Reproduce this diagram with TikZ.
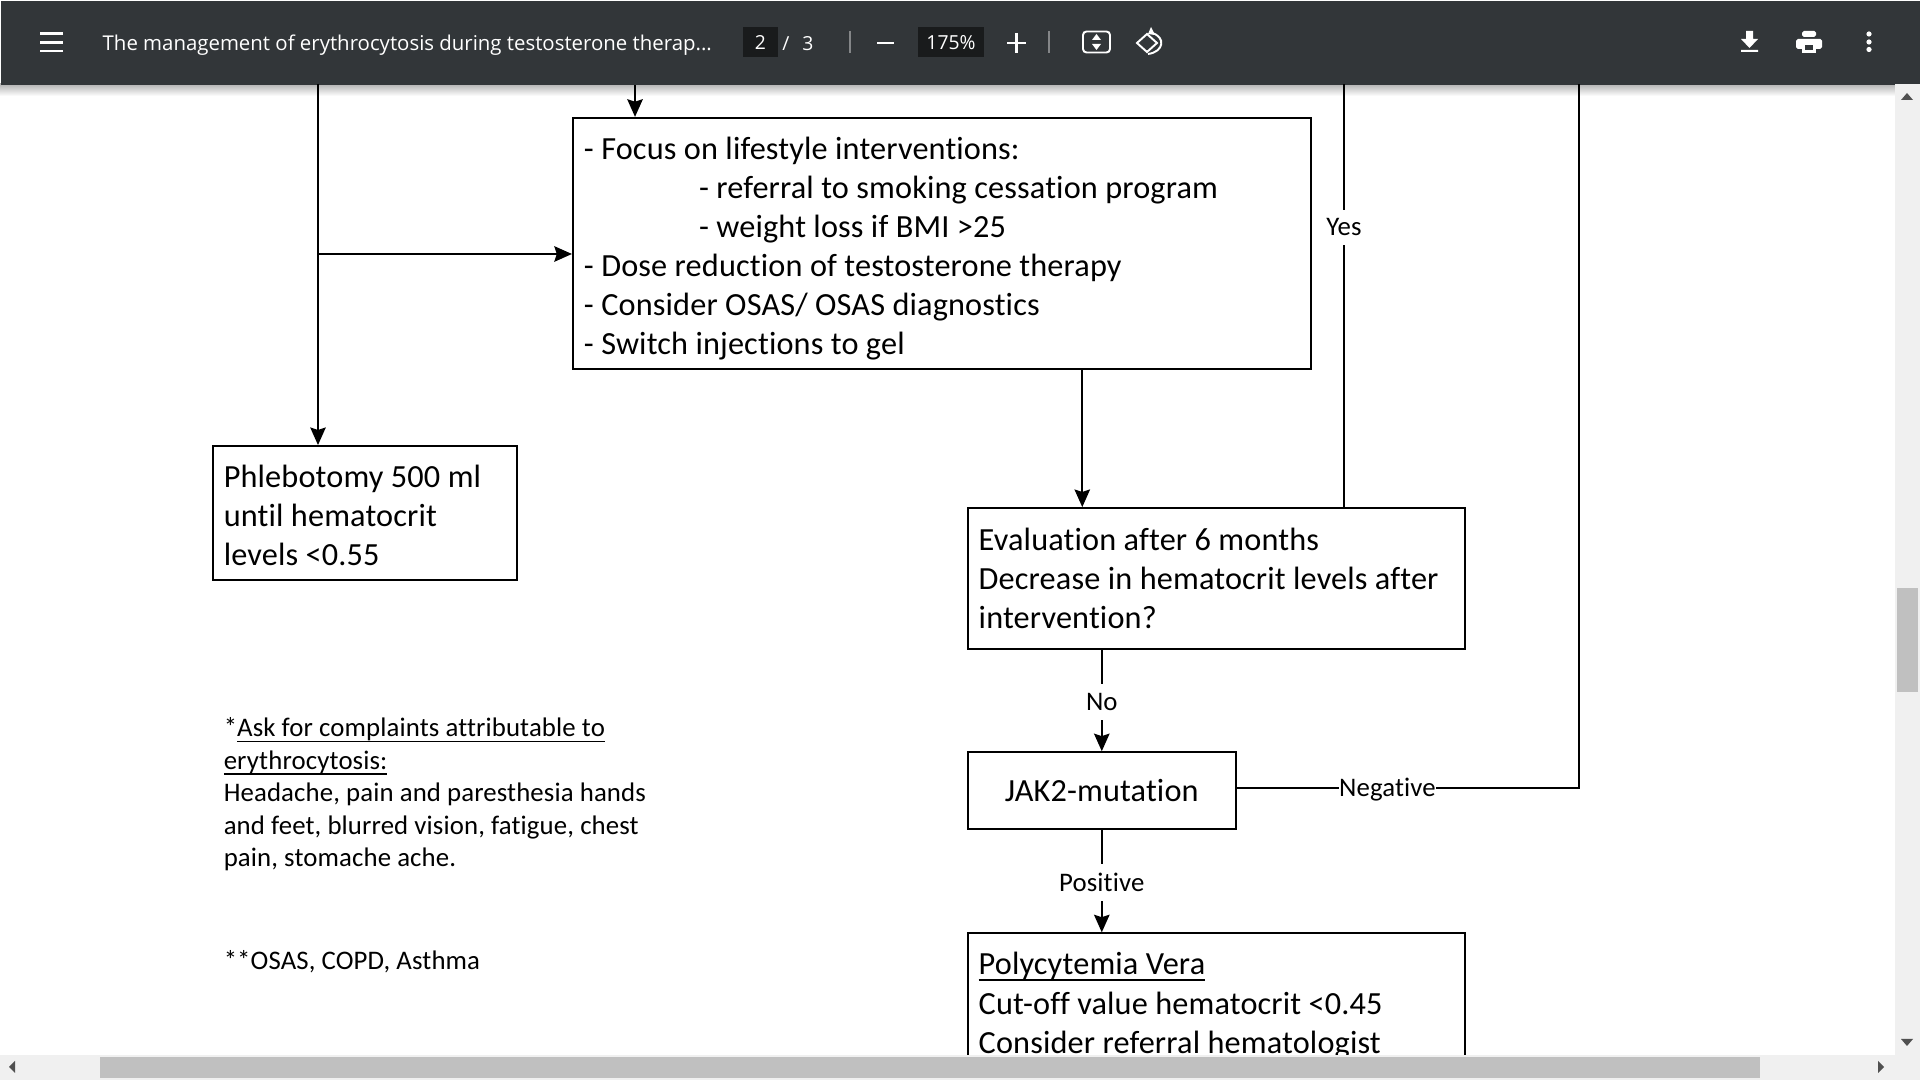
\documentclass[tikz,border=0pt]{standalone}
\usepackage{fontspec}
\setmainfont{Carlito}[LetterSpace=0.45, Ligatures=CommonOff]
\newfontfamily\barfont{Open Sans}
\usetikzlibrary{shapes.geometric, arrows.meta, calc}
\definecolor{barGrey}{RGB}{50, 54, 57}
\definecolor{barField}{RGB}{25, 27, 28}
\definecolor{trackGrey}{RGB}{240, 240, 240}
\definecolor{thumbGrey}{RGB}{192, 192, 192}
\definecolor{tipGrey}{RGB}{80, 80, 80}
\newcommand{\undertext}[1]{\underline{\smash{#1}}}

\begin{document}
\begin{tikzpicture}
    [
        x=0.01cm, y=-0.01cm,
        place/.style={
            draw, rectangle, line width=0.6pt, inner sep=0pt, inner xsep=3.1pt,
            align=flush left, font=\fontsize{9.18}{11.1}\selectfont
        },
        note/.style={
            text width=4.4cm, inner sep=0pt, align=flush left,
            font=\fontsize{7.62}{9.25}\selectfont
        },
        line/.style={line width=0.58pt},
        arrow/.style={line width=0.58pt, -{Stealth[length=5pt,width=4.4pt,inset=0.7pt]}},
        tag/.style={
            fill=white, inner xsep=1pt, inner ysep=2.6pt, yshift=-0.012cm,
            font=\fontsize{7.62}{9}\selectfont
        },
        bartext/.style={
            text=white, inner sep=0pt, font=\barfont\fontsize{5.5}{7}\selectfont
        },
        field/.style={
            fill=barField, minimum height=0.3cm, inner sep=0pt
        },
        icon/.style={white, line width=0.55pt}
    ]
\path [use as bounding box, clip] (0,0) rectangle (1920,1080);
\fill [white] (0,0) rectangle (1920,1080);

% Nodes
\node (main) [
        place, minimum width=7.38cm, minimum height=2.51cm, text width=7.16cm
    ] at (942.2,243.5) {\rule{0pt}{9.3pt}- Focus on lifestyle interventions:\\
    \hspace*{1.15cm}- referral to smoking cessation program\\
    \hspace*{1.15cm}- weight loss if BMI >25\\
    - Dose reduction of testosterone therapy\\
    - Consider OSAS/ OSAS diagnostics\\
    - Switch injections to gel};

\node (phleb) [
        place, below of=main, node distance=2.695cm, xshift=-5.77cm,
        minimum width=3.04cm, minimum height=1.34cm, text width=2.82cm
    ] {\rule{0pt}{7.6pt}Phlebotomy 500 ml\\until hematocrit\\levels <0.55};

\node (eval) [
        place, below of=main, node distance=3.35cm, xshift=2.74cm,
        minimum width=4.97cm, minimum height=1.41cm, text width=4.75cm
    ] {Evaluation after 6 months\\Decrease in hematocrit levels after\\intervention?};

\node (jak) [
        place, below of=eval, node distance=2.12cm, xshift=-1.145cm,
        minimum width=2.68cm, minimum height=0.77cm, align=center, text width=2.46cm
    ] {JAK2-mutation};

\node (vera) [
        place, below of=jak, node distance=2.095cm, xshift=1.145cm,
        minimum width=4.97cm, minimum height=1.34cm, text width=4.75cm
    ] {\rule{0pt}{9.3pt}\undertext{Polycytemia Vera}\\Cut-off value hematocrit <0.45\\Consider referral hematologist};

\node (complaints) [
        note, below of=phleb, node distance=2.81cm, xshift=0.79cm
    ] {*\undertext{Ask for complaints attributable to}\\
    \undertext{erythrocytosis:}\\
    Headache, pain and paresthesia hands\\
    and feet, blurred vision, fatigue, chest\\
    pain, stomache ache.};

\node (osas) [
        note, below of=complaints, node distance=1.67cm
    ] {**OSAS, COPD, Asthma};

% Viewer bar
\fill [top color=black!30, bottom color=white] (0,84) rectangle (1920,96);
\node (bar) [
        fill=barGrey, minimum width=19.2cm, minimum height=0.84cm, inner sep=0pt, anchor=north west
    ] at (0,0) {};

\node (title) [
        bartext, anchor=west, font=\barfont\fontsize{5.8}{7}\selectfont
    ] at (102,45) {The management of erythrocytosis during testosterone therap...};
\node (page-box) [field, minimum width=0.35cm] at (760.5,42.5) {};
\node (page) [bartext] at (760.5,43) {2};
\node (page-sep) [bartext] at (786,44) {/};
\node (page-all) [bartext] at (808,44) {3};
\node (zoom-box) [field, minimum width=0.66cm] at (951,42.5) {};
\node (zoom) [bartext] at (951,43) {175\%};

% Connectors
\coordinate (lane-top) at (318,84);
\coordinate (lane-branch) at (318,254);
\coordinate (main-in) at ([xshift=-3.07cm]main.north);
\coordinate (eval-in) at ([xshift=-1.34cm]eval.north);
\coordinate (yes-top) at (1344,84);
\coordinate (jak-out) at ([yshift=0.025cm]jak.east);
\coordinate (right-top) at (1579,84);

\draw [arrow] (lane-top) -- (lane-top |- phleb.north);
\draw [arrow] (lane-branch) -- (lane-branch -| main.west);
\draw [arrow] (main-in |- bar.south) -- (main-in);
\draw [arrow] (eval-in |- main.south) -- (eval-in);
\draw [line] (yes-top |- eval.north) -- node (yes) [tag, pos=0.664] {Yes} (yes-top);
\draw [arrow] (jak |- eval.south) -- node (no) [tag] {No} (jak.north);
\draw [arrow] (jak.south) -- node (positive) [tag] {Positive} (jak |- vera.north);
\draw [line] (jak-out) -- node (negative) [tag, pos=0.44, inner xsep=0pt] {Negative} (jak-out -| right-top) -- (right-top);

% Viewer icons
\draw [icon, line width=0.75pt] (40,33.5) -- (63,33.5) (40,42.5) -- (63,42.5) (40,51) -- (63,51);
\draw [barGrey!60!white, line width=0.4pt] (850,31) -- (850,53) (1049,31) -- (1049,53);
\draw [icon, line width=0.65pt] (877,43) -- (894,43);
\draw [icon, line width=0.65pt] (1007,43) -- (1026,43) (1016.5,33) -- (1016.5,53);
\draw [icon, rounded corners=1pt] (1083,31.5) rectangle (1110,52.5);
\fill [white] (1096.5,34) -- (1092,40) -- (1101,40) -- cycle (1096.5,50) -- (1092,44) -- (1101,44) -- cycle;
\draw [icon] (1137,43) -- (1147,34) -- (1157,43) -- (1147,52) -- cycle;
\draw [icon] (1152,33) .. controls (1166,37) and (1164,52) .. (1148,54);
\fill [white] (1151,27) -- (1155,35) -- (1148,34) -- cycle;
\fill [white] (1746,31) rectangle (1753,39) (1741,39) -- (1758,39) -- (1749.5,48) -- cycle (1741,50) rectangle (1758,52);
\fill [white, rounded corners=0.5pt] (1796,39) rectangle (1822,49) (1802,31) rectangle (1816,37);
\fill [white] (1802,45) rectangle (1816,53);
\fill [barGrey] (1805,45) rectangle (1813,50);
\fill [white] (1869,34) circle (2.6) (1869,42) circle (2.6) (1869,49.5) circle (2.6);

% Scrollbars
\fill [trackGrey] (1895,84) rectangle (1920,1080);
\fill [trackGrey] (0,1055) rectangle (1920,1080);
\fill [thumbGrey] (1897,588) rectangle (1918,692);
\fill [thumbGrey] (100,1057) rectangle (1760,1078);
\fill [tipGrey] (1907,93) -- (1901,100) -- (1913,100) -- cycle;
\fill [tipGrey] (1907,1046) -- (1901,1039) -- (1913,1039) -- cycle;
\fill [tipGrey] (9,1067) -- (15,1061) -- (15,1073) -- cycle;
\fill [tipGrey] (1884,1067) -- (1878,1061) -- (1878,1073) -- cycle;
\end{tikzpicture}
\end{document}
